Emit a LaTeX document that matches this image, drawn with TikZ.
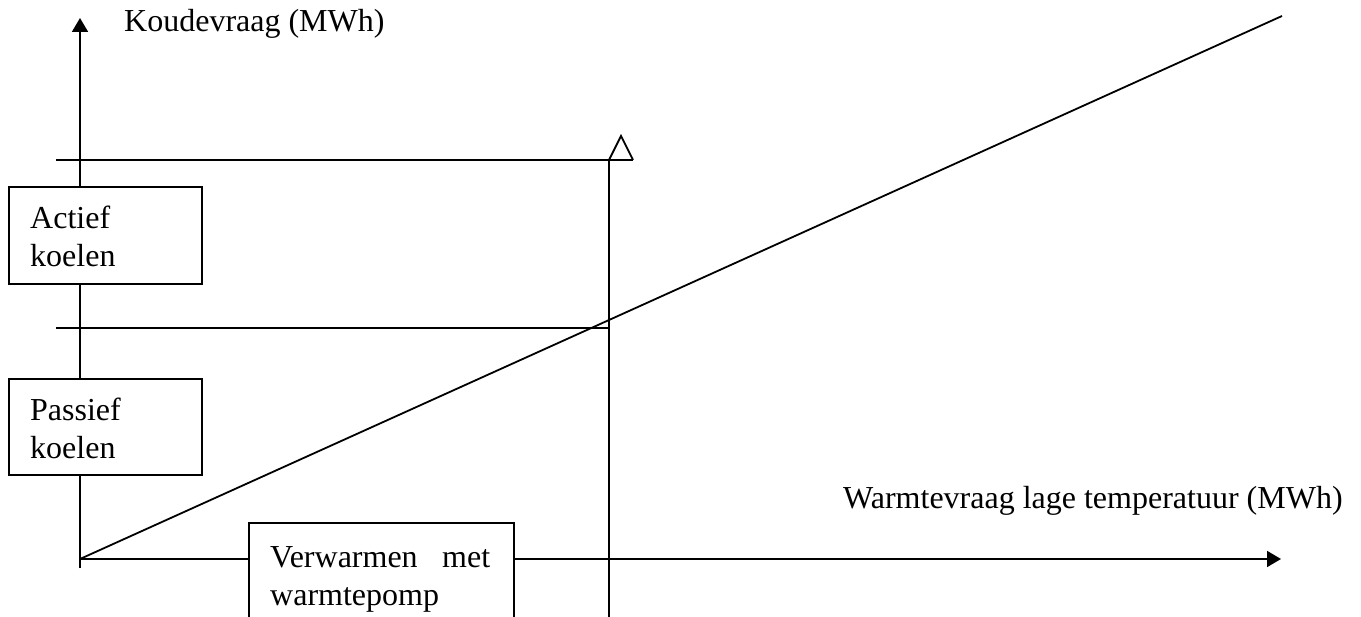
\documentclass[tikz,border=0pt]{standalone}
\usepackage{fontspec}
\setmainfont{Liberation Serif}
\usetikzlibrary{arrows.meta}
\begin{document}
\begin{tikzpicture}[x=1pt,y=-1pt,
  ln/.style={line width=1.8pt, line cap=butt},
  axisarrow/.style={ln, -{Triangle[length=14pt,width=16pt]}},
  boxshape/.style={draw, line width=1.8pt, fill=white, inner sep=0pt, anchor=north west},
  lbl/.style={inner sep=0pt, anchor=base west, font=\fontsize{32}{38}\selectfont}]
\useasboundingbox (0,0) rectangle (1361,617);
\clip (0,0) rectangle (1361,617);
% coordinates
\coordinate (O) at (80,559);
\coordinate (ybot) at (80,568);
\coordinate (ytop) at (80,18);
\coordinate (xend) at (1281,559);
\coordinate (diagend) at (1282,16);
\coordinate (h1l) at (56,160);
\coordinate (h1r) at (633,160);
\coordinate (h2l) at (56,328);
\coordinate (h2r) at (609,328);
\coordinate (vtop) at (609,160);
\coordinate (vbot) at (609,620);
\coordinate (apex) at (621,136);
% axes and lines
\draw[axisarrow] (ybot) -- (ytop);
\draw[axisarrow] (O) -- (xend);
\draw[ln] (O) -- (diagend);
\draw[ln] (h1l) -- (h1r);
\draw[ln] (h2l) -- (h2r);
\draw[ln] (vtop) -- (vbot);
\draw[ln, line join=miter] (vtop) -- (apex) -- (h1r);
% boxes
\node[boxshape, minimum width=193pt, minimum height=97pt] (actief) at (8,186) {};
\node[boxshape, minimum width=193pt, minimum height=96pt] (passief) at (8,378) {};
\node[boxshape, minimum width=265pt, minimum height=130pt] (verw) at (248,522) {};
% texts
\node[lbl] (actieftxt) at (30,229) {\parbox[t]{170pt}{Actief\\koelen}};
\node[lbl] (passieftxt) at (30,421) {\parbox[t]{170pt}{Passief\\koelen}};
\node[lbl] (verwtxt) at (270,567) {\parbox[t]{220pt}{Verwarmen\hfill met\\warmtepomp}};
\node[lbl] (ylabel) at (124,32) {Koudevraag (MWh)};
\node[lbl] (xlabel) at (843,508) {Warmtevraag lage temperatuur (MWh)};
\end{tikzpicture}
\end{document}
